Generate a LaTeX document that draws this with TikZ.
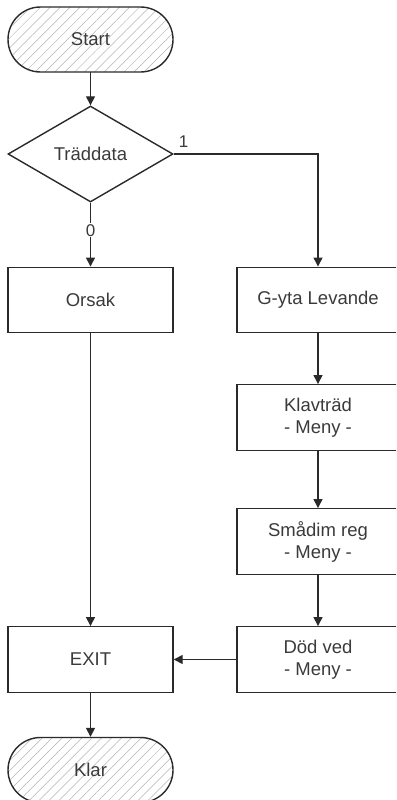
\documentclass[tikz,border=0pt]{standalone}
\usepackage{fontspec}
\setmainfont{Liberation Sans}
\usetikzlibrary{shapes.geometric,arrows.meta,patterns.meta}
\definecolor{ln}{HTML}{2A2A2A}
\definecolor{tx}{HTML}{3A3A3A}
\begin{document}
\begin{tikzpicture}[x=1pt,y=-1pt,
  font=\fontsize{18.5}{22}\selectfont,
  every node/.style={text=tx},
  box/.style={draw=ln,line width=1.4pt,rectangle,minimum height=65.5pt,inner sep=0pt,align=center},
  term/.style={draw=ln,line width=1.4pt,rectangle,rounded corners=32.5pt,minimum width=165pt,minimum height=65pt,inner sep=0pt,
     pattern={Lines[angle=45,distance=7pt,line width=0.5pt]},pattern color=black!30},
  dec/.style={draw=ln,line width=1.4pt,diamond,minimum width=165pt,minimum height=96pt,inner sep=0pt},
  arr/.style={draw=ln,line width=1.4pt,-{Triangle[length=9pt,width=9pt]}},
  lbl/.style={font=\fontsize{17}{20}\selectfont,inner sep=1pt}]
\useasboundingbox (0,0) rectangle (396,800);
\clip (0,0) rectangle (396,800);
\node[term] (start) at (90.5,39.5) {Start};
\node[dec] (dd) at (90.5,154) {Träddata};
\node[box,minimum width=165pt] (orsak) at (90.5,300) {Orsak};
\node[box,minimum width=162pt] (gyta) at (318,300) {G-yta Levande};
\node[box,minimum width=162pt] (klav) at (318,417.5) {Klavträd\\- Meny -};
\node[box,minimum width=162pt] (smad) at (318,541.5) {Smådim reg\\- Meny -};
\node[box,minimum width=162pt] (dod) at (318,659.5) {Död ved\\- Meny -};
\node[box,minimum width=165pt] (exit) at (90.5,659.5) {EXIT};
\node[term] (klar) at (90.5,770) {Klar};
\draw[arr] (start) -- (dd);
\draw[arr] (dd.south) -- node[lbl,fill=white,pos=0.43] {0} (orsak.north);
\draw[arr] (dd.east) -- (gyta.north |- dd.east) -- (gyta.north);
\node[lbl,anchor=south west] (one) at ([xshift=4pt,yshift=5pt]dd.east) {1};
\draw[arr] (gyta) -- (klav);
\draw[arr] (klav) -- (smad);
\draw[arr] (smad) -- (dod);
\draw[arr] (orsak) -- (exit);
\draw[arr] (dod) -- (exit);
\draw[arr] (exit) -- (klar);
\end{tikzpicture}
\end{document}
